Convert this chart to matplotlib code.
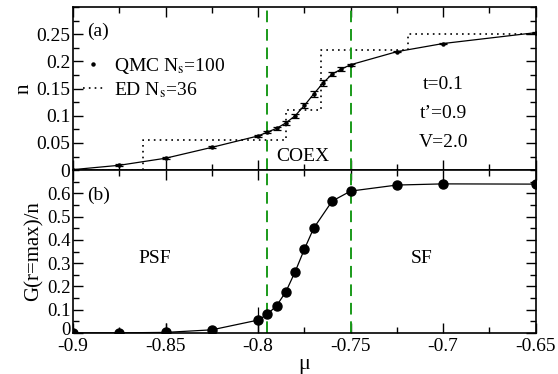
import numpy as np
import matplotlib
matplotlib.use("Agg")
import matplotlib.pyplot as plt
import matplotlib.transforms as mtransforms
from matplotlib.ticker import MultipleLocator
from matplotlib.lines import Line2D

plt.rcParams['font.family'] = ['Liberation Serif', 'DejaVu Serif']
plt.rcParams['mathtext.fontset'] = 'stix'
plt.rcParams['font.size'] = 14

# QMC density n(mu), Ns=100
qmc_mu = [-0.9, -0.875, -0.85, -0.825, -0.8, -0.795, -0.79, -0.785, -0.78,
          -0.775, -0.77, -0.765, -0.76, -0.755, -0.75, -0.725, -0.7, -0.65]
qmc_n = [0.001, 0.009, 0.022, 0.042, 0.063, 0.070, 0.077, 0.087, 0.100,
         0.119, 0.140, 0.160, 0.177, 0.186, 0.194, 0.218, 0.233, 0.253]
qmc_err = [0.001, 0.002, 0.002, 0.002, 0.002, 0.002, 0.003, 0.003, 0.004,
           0.004, 0.005, 0.005, 0.003, 0.003, 0.002, 0.001, 0.001, 0.001]

# ED density, Ns=36 (steps)
ed_mu = [-0.9, -0.862, -0.785, -0.766, -0.719, -0.65]
ed_n = [0.0, 0.0556, 0.111, 0.222, 0.25, 0.25]

# G(r=max)/n
g_mu = [-0.9, -0.875, -0.85, -0.825, -0.8, -0.795, -0.79, -0.785, -0.78,
        -0.775, -0.77, -0.76, -0.75, -0.725, -0.7, -0.65]
g_val = [0.0, 0.0, 0.002, 0.013, 0.055, 0.08, 0.117, 0.177, 0.263,
         0.36, 0.45, 0.567, 0.61, 0.636, 0.641, 0.64]
g_err = [0, 0, 0.04, 0, 0.055, 0, 0, 0, 0, 0, 0, 0, 0, 0, 0, 0]

coex = [-0.795, -0.75]
green = '#1a9a1a'

fig = plt.figure(figsize=(5.58, 3.74), dpi=100)
ax1 = fig.add_axes([0.131, 0.545, 0.829, 0.436])
ax2 = fig.add_axes([0.131, 0.110, 0.829, 0.435])

# top panel
ax1.step(ed_mu, ed_n, where='post', color='k', lw=1.2, linestyle=(0, (1, 2.5)))
ax1.plot(qmc_mu, qmc_n, color='k', lw=0.9)
ax1.errorbar(qmc_mu, qmc_n, yerr=qmc_err, fmt='o', ms=2.2, color='k',
             ecolor='k', elinewidth=0.9, capsize=3, capthick=0.9)
for m in coex:
    ax1.axvline(m, color=green, lw=1.4, dashes=(6, 3.5))
ax1.set_xlim(-0.9, -0.65)
ax1.set_ylim(0, 0.3)
ax1.set_yticks([0, 0.05, 0.1, 0.15, 0.2, 0.25])
ax1.set_yticklabels(['0', '0.05', '0.1', '0.15', '0.2', '0.25'])
ax1.yaxis.set_minor_locator(MultipleLocator(0.025))
ax1.xaxis.set_major_locator(MultipleLocator(0.05))
ax1.xaxis.set_minor_locator(MultipleLocator(0.025))
ax1.tick_params(labelbottom=False)
ax1.set_ylabel('n', fontsize=15, labelpad=2)
ax1.text(-0.8924, 0.256, '(a)', va='center')
ax1.text(-0.776, 0.026, 'COEX', ha='center', va='center')
ax1.text(-0.7, 0.157, 't=0.1', ha='center', va='center')
ax1.text(-0.7, 0.104, 't’=0.9', ha='center', va='center')
ax1.text(-0.7, 0.051, 'V=2.0', ha='center', va='center')
handles = [Line2D([], [], marker='o', ms=2.2, color='k', lw=0),
           Line2D([], [], color='k', lw=1.2, linestyle=(0, (1, 2.5)))]
ax1.legend(handles, [r'QMC N$_{\rm s}$=100', r'ED N$_{\rm s}$=36'],
           loc='upper left', bbox_to_anchor=(0.0216, 0.70), frameon=False,
           borderaxespad=0, borderpad=0,
           handlelength=1.0, handletextpad=0.6, labelspacing=0.2)

# bottom panel
ax2.plot(g_mu, g_val, color='k', lw=0.9)
ax2.errorbar(g_mu, g_val, yerr=g_err, fmt='o', ms=6.5, color='k',
             ecolor='k', elinewidth=0.9, capsize=0)
for m in coex:
    ax2.axvline(m, color=green, lw=1.4, dashes=(6, 3.5))
ax2.set_xlim(-0.9, -0.65)
ax2.set_ylim(0, 0.7)
ax2.set_yticks([0, 0.1, 0.2, 0.3, 0.4, 0.5, 0.6])
ax2.set_yticklabels(['0', '0.1', '0.2', '0.3', '0.4', '0.5', '0.6'])
ax2.yaxis.set_minor_locator(MultipleLocator(0.05))
ax2.set_xticks([-0.9, -0.85, -0.8, -0.75, -0.7, -0.65])
ax2.set_xticklabels(['-0.9', '-0.85', '-0.8', '-0.75', '-0.7', '-0.65'])
ax2.xaxis.set_minor_locator(MultipleLocator(0.025))
ax2.set_ylabel('G(r=max)/n', fontsize=15, labelpad=2)
ax2.set_xlabel('μ', fontsize=16, labelpad=0)
ax2.text(-0.8924, 0.59, '(b)', va='center')
ax2.text(-0.856, 0.318, 'PSF', ha='center', va='center')
ax2.text(-0.7115, 0.318, 'SF', ha='center', va='center')

for ax in (ax1, ax2):
    ax.tick_params(which='both', direction='in', top=True, right=True,
                   labelsize=14, pad=2)
    ax.tick_params(which='major', length=7, width=1)
    ax.tick_params(which='minor', length=4, width=1)
    for s in ax.spines.values():
        s.set_linewidth(1.2)
ax2.tick_params(axis='x', pad=3.5)
ax2.tick_params(axis='y', labelsize=13.5)

# lift the bottom "0" a little so it clears "-0.9"
lift = mtransforms.ScaledTranslation(0, 3 / 72, fig.dpi_scale_trans)
lbl0 = ax2.get_yticklabels()[0]
lbl0.set_transform(lbl0.get_transform() + lift)

fig.savefig('out.png', dpi=100)
